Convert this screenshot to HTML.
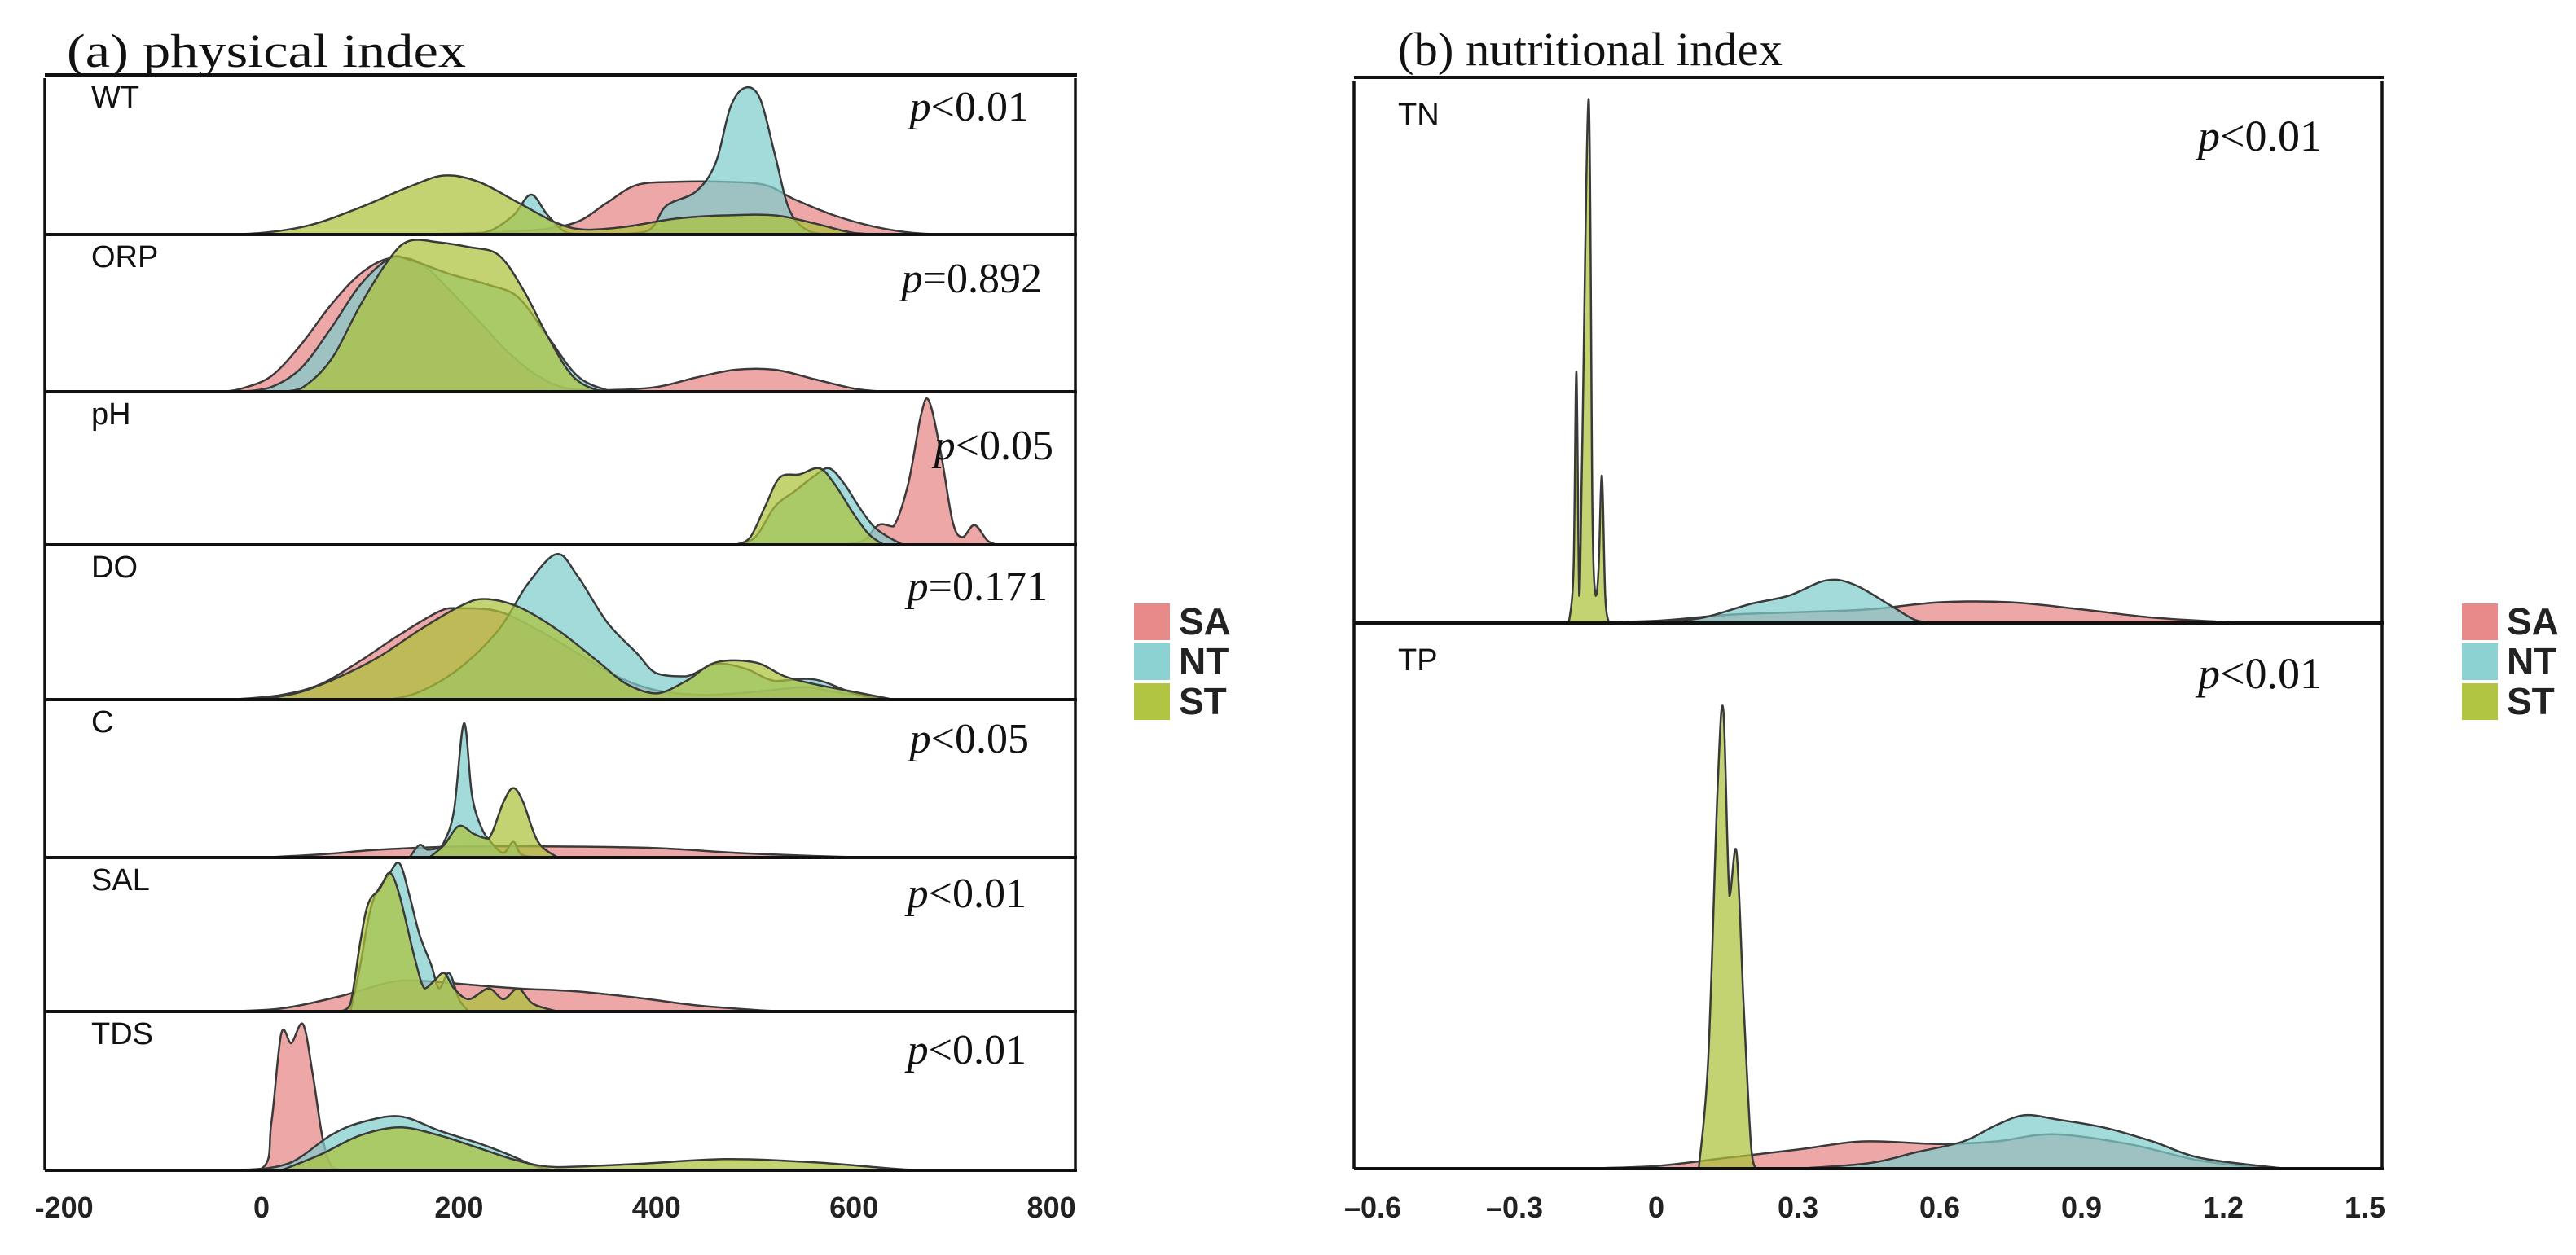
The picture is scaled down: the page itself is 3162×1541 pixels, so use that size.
<!DOCTYPE html>
<html><head><meta charset="utf-8"><style>
html,body{margin:0;padding:0;background:#fff}
svg{display:block}
</style></head><body>
<svg id="chart" width="3162" height="1541" viewBox="0 0 3162 1541" xmlns="http://www.w3.org/2000/svg" font-family="Liberation Sans, Arial, sans-serif">
<g id="static" font-family="Liberation Sans, Arial, sans-serif">
<text x="82" y="82" font-family="Liberation Serif, serif" font-size="58" textLength="490" lengthAdjust="spacingAndGlyphs" fill="#111">(a) physical index</text>
<text x="1716" y="80" font-family="Liberation Serif, serif" font-size="58" textLength="472" lengthAdjust="spacingAndGlyphs" fill="#111">(b) nutritional index</text>
<g>
<rect x="1392" y="741" width="44" height="45" fill="#e88a8a"/>
<rect x="1392" y="790" width="44" height="45" fill="#8cd2d2"/>
<rect x="1392" y="839" width="44" height="45" fill="#b1c543"/>
<text x="1447" y="779" font-size="46" font-weight="bold" fill="#222">SA</text>
<text x="1447" y="828" font-size="46" font-weight="bold" fill="#222">NT</text>
<text x="1447" y="877" font-size="46" font-weight="bold" fill="#222">ST</text>
</g>
<g>
<rect x="3022" y="741" width="44" height="45" fill="#e88a8a"/>
<rect x="3022" y="790" width="44" height="45" fill="#8cd2d2"/>
<rect x="3022" y="839" width="44" height="45" fill="#b1c543"/>
<text x="3077" y="779" font-size="46" font-weight="bold" fill="#222">SA</text>
<text x="3077" y="828" font-size="46" font-weight="bold" fill="#222">NT</text>
<text x="3077" y="877" font-size="46" font-weight="bold" fill="#222">ST</text>
</g>
</g>
<g id="plots" font-family="Liberation Sans, Arial, sans-serif"></g>
</svg>
<script>
// ---------- data: [value, relative density] ----------
const leftTicks = [-200, 0, 200, 400, 600, 800];
const leftTickLabels = ["-200", "0", "200", "400", "600", "800"];
const rightTicks = [-0.6, -0.3, 0, 0.3, 0.6, 0.9, 1.2, 1.5];
const rightTickLabels = ["\u20130.6", "\u20130.3", "0", "0.3", "0.6", "0.9", "1.2", "1.5"];
const leftRows = ["WT", "ORP", "pH", "DO", "C", "SAL", "TDS"];
const leftPvals = ["<0.01", "=0.892", "<0.05", "=0.171", "<0.05", "<0.01", "<0.01"];
const rightRows = ["TN", "TP"];
const rightPvals = ["<0.01", "<0.01"];

const WT_SA = [[150,0],[220,0.01],[280,0.03],[320,0.08],[350,0.2],[380,0.31],[420,0.33],[470,0.33],[510,0.31],[540,0.22],[580,0.12],[620,0.05],[660,0.01],[700,0]];
const WT_NT = [[200,0],[230,0.02],[255,0.12],[273,0.25],[290,0.12],[310,0.01],[340,0],[390,0.02],[410,0.18],[440,0.27],[460,0.45],[475,0.8],[490,0.92],[505,0.85],[520,0.5],[535,0.15],[555,0.02],[580,0]];
const WT_ST = [[-50,0],[0,0.01],[50,0.06],[100,0.17],[150,0.3],[185,0.37],[220,0.33],[260,0.2],[300,0.07],[330,0.03],[370,0.05],[420,0.1],[470,0.12],[520,0.12],[560,0.07],[600,0.01],[640,0]];

const ORP_SA = [[-40,0],[-20,0.02],[10,0.1],[40,0.3],[70,0.55],[100,0.75],[130,0.85],[160,0.82],[190,0.65],[220,0.45],[250,0.25],[280,0.1],[310,0.02],[350,0.01],[400,0.03],[440,0.09],[480,0.14],[520,0.14],[560,0.08],[600,0.02],[630,0]];
const ORP_NT = [[-20,0],[10,0.03],[40,0.15],[70,0.4],[100,0.68],[130,0.85],[150,0.84],[190,0.75],[230,0.68],[260,0.6],[290,0.35],[320,0.1],[350,0.01],[370,0]];
const ORP_ST = [[20,0],[40,0.02],[70,0.2],[100,0.55],[130,0.85],[150,0.96],[180,0.95],[210,0.92],[240,0.87],[265,0.65],[290,0.35],[315,0.1],[340,0.01],[360,0]];

const PH_SA = [[590,0],[610,0.03],[625,0.13],[640,0.12],[655,0.4],[668,0.85],[676,0.94],[688,0.6],[700,0.15],[710,0.05],[722,0.13],[735,0.03],[745,0]];
const PH_NT = [[480,0],[500,0.05],[520,0.25],[540,0.35],[560,0.45],[575,0.5],[590,0.4],[605,0.25],[620,0.12],[635,0.05],[650,0]];
const PH_ST = [[480,0],[495,0.05],[510,0.25],[525,0.44],[545,0.46],[565,0.5],[580,0.4],[600,0.2],[615,0.07],[630,0]];

const DO_SA = [[-30,0],[20,0.03],[60,0.1],[100,0.25],[140,0.42],[180,0.57],[200,0.59],[240,0.57],[280,0.45],[320,0.3],[360,0.15],[400,0.06],[450,0.03],[500,0.05],[550,0.08],[580,0.05],[620,0.01],[650,0]];
const DO_NT = [[130,0],[160,0.05],[200,0.2],[240,0.45],[270,0.75],[299,0.94],[320,0.8],[350,0.5],[380,0.3],[400,0.17],[430,0.15],[460,0.23],[490,0.2],[520,0.12],[560,0.13],[600,0.04],[630,0]];
const DO_ST = [[0,0],[40,0.05],[80,0.15],[120,0.28],[160,0.45],[200,0.6],[225,0.65],[260,0.6],[300,0.45],[340,0.25],[370,0.1],[400,0.04],[430,0.12],[460,0.24],[500,0.24],[530,0.15],[560,0.1],[600,0.05],[640,0]];

const C_SA = [[0,0],[60,0.02],[120,0.05],[200,0.07],[300,0.07],[400,0.06],[480,0.03],[560,0.01],[615,0]];
const C_NT = [[150,0],[160,0.08],[168,0.05],[178,0.06],[185,0.1],[195,0.3],[205,0.85],[213,0.4],[222,0.2],[232,0.1],[245,0.03],[255,0.1],[263,0.02],[280,0]];
const C_ST = [[170,0],[185,0.08],[200,0.2],[215,0.15],[230,0.12],[245,0.35],[255,0.44],[265,0.35],[280,0.1],[300,0]];

const SAL_SA = [[-40,0],[20,0.02],[80,0.1],[130,0.19],[160,0.2],[200,0.18],[260,0.15],[320,0.13],[380,0.09],[440,0.04],[500,0.01],[530,0]];
const SAL_NT = [[90,0],[100,0.3],[112,0.7],[130,0.9],[140,0.96],[150,0.75],[160,0.5],[172,0.3],[180,0.15],[190,0.25],[200,0.08],[210,0]];
const SAL_ST = [[80,0],[90,0.05],[100,0.45],[108,0.7],[120,0.8],[130,0.9],[140,0.75],[155,0.35],[165,0.15],[175,0.2],[185,0.25],[195,0.15],[210,0.08],[230,0.15],[245,0.08],[260,0.15],[275,0.05],[300,0]];

const TDS_SA = [[-60,0],[0,0.01],[10,0.3],[20,0.86],[30,0.8],[42,0.92],[52,0.6],[62,0.2],[72,0.02],[90,0]];
const TDS_NT = [[-10,0],[30,0.05],[70,0.22],[100,0.3],[140,0.34],[180,0.25],[220,0.17],[250,0.1],[280,0.02],[300,0]];
const TDS_ST = [[20,0],[60,0.1],[100,0.22],[140,0.27],[180,0.22],[220,0.14],[260,0.06],[300,0.02],[380,0.04],[470,0.07],[560,0.05],[640,0.01],[670,0]];

const TN_SA = [[-0.2,0],[0,0.004],[0.15,0.015],[0.3,0.02],[0.45,0.025],[0.6,0.038],[0.75,0.038],[0.9,0.025],[1.05,0.01],[1.2,0.002],[1.25,0]];
const TN_NT = [[0,0],[0.1,0.01],[0.2,0.035],[0.28,0.05],[0.36,0.078],[0.42,0.07],[0.5,0.03],[0.55,0.005],[0.6,0]];
const TN_ST = [[-0.185,0],[-0.175,0.1],[-0.169,0.46],[-0.163,0.05],[-0.157,0.3],[-0.143,0.96],[-0.135,0.2],[-0.128,0.05],[-0.122,0.1],[-0.115,0.27],[-0.108,0.05],[-0.1,0]];

const TP_SA = [[-0.17,0],[0,0.005],[0.15,0.02],[0.3,0.035],[0.44,0.05],[0.6,0.045],[0.72,0.05],[0.84,0.063],[1.0,0.045],[1.15,0.015],[1.3,0]];
const TP_NT = [[0.3,0],[0.45,0.01],[0.55,0.03],[0.65,0.05],[0.72,0.08],[0.78,0.098],[0.85,0.09],[0.95,0.075],[1.05,0.05],[1.15,0.02],[1.3,0.003],[1.34,0]];
const TP_ST = [[0.09,0],[0.11,0.2],[0.13,0.7],[0.142,0.84],[0.155,0.5],[0.17,0.58],[0.185,0.3],[0.2,0.05],[0.21,0]];

const leftSeries = [[WT_SA,WT_NT,WT_ST],[ORP_SA,ORP_NT,ORP_ST],[PH_SA,PH_NT,PH_ST],[DO_SA,DO_NT,DO_ST],[C_SA,C_NT,C_ST],[SAL_SA,SAL_NT,SAL_ST],[TDS_SA,TDS_NT,TDS_ST]];
const rightSeries = [[TN_SA,TN_NT,TN_ST],[TP_SA,TP_NT,TP_ST]];

// ---------- rendering ----------
const NS = "http://www.w3.org/2000/svg";
const plots = document.getElementById("plots");
const fills = ["#e68585", "#7fcdcd", "#adc23a"];
const groupNames = ["sa", "nt", "st"];

function mk(tag, attrs, parent) {
  const el = document.createElementNS(NS, tag);
  for (const k in attrs) el.setAttribute(k, attrs[k]);
  parent.appendChild(el);
  return el;
}
function xLeft(v) { return 321 + v * 1.212; }
function xRight(v) { return 2033 + v * 580; }

function smoothPath(pts) {
  let d = "M" + pts[0][0].toFixed(1) + "," + pts[0][1].toFixed(1);
  for (let i = 0; i < pts.length - 1; i++) {
    const p0 = pts[Math.max(0, i - 1)], p1 = pts[i], p2 = pts[i + 1], p3 = pts[Math.min(pts.length - 1, i + 2)];
    const c1x = p1[0] + (p2[0] - p0[0]) / 6, c1y = Math.min(p1[1] + (p2[1] - p0[1]) / 6, Math.max(p1[1], p2[1]));
    const c2x = p2[0] - (p3[0] - p1[0]) / 6, c2y = Math.min(p2[1] - (p3[1] - p1[1]) / 6, Math.max(p1[1], p2[1]));
    d += " C" + c1x.toFixed(1) + "," + c1y.toFixed(1) + " " + c2x.toFixed(1) + "," + c2y.toFixed(1) + " " + p2[0].toFixed(1) + "," + p2[1].toFixed(1);
  }
  return d;
}

function drawDensity(series, xf, base, h, parent, nm) {
  const pts = series.map(p => [xf(p[0]), base - p[1] * h]);
  const path = mk("path", {d: smoothPath(pts) + " Z"}, parent);
  
  
  return path;
}

function drawPanel(opts) {
  const g = mk("g", {}, plots);
  
  
  const n = opts.rows.length;
  for (let r = 0; r < n; r++) {
    const top = opts.bounds[r], base = opts.bounds[r + 1], h = base - top;
    const rg = mk("g", {}, g);
    
    
    opts.series[r].forEach((s, k) => {
      const p = drawDensity(s, opts.xf, base, h, rg, 'density-' + opts.rows[r].toLowerCase() + '-' + groupNames[k]);
      p.setAttribute("fill", fills[k]);
      p.setAttribute("fill-opacity", "0.72");
      p.setAttribute("stroke", "#3a3a3a");
      p.setAttribute("stroke-width", "2.5");
    });
    const lab = mk("text", {x: opts.labelX, y: top + opts.labelDy, "font-size": opts.labelSize, "font-family": "Liberation Sans, Arial, sans-serif", fill: "#111"}, rg);
    
    
    lab.textContent = opts.rows[r];
    const pt = mk("text", {x: opts.pX[r], y: top + opts.pDy[r], "font-size": opts.pSize, "text-anchor": "end", "font-family": "Liberation Serif, serif", fill: "#111"}, rg);
    
    
    const ti = mk("tspan", {"font-style": "italic"}, pt);
    ti.textContent = "p";
    const tr = mk("tspan", {}, pt);
    tr.textContent = opts.pvals[r];
  }
  const L = opts.frame[0], R = opts.frame[1];
  for (let r = 0; r <= n; r++) {
    const ln = mk("line", {x1: L, x2: R + 2, y1: opts.bounds[r], y2: opts.bounds[r], stroke: "#111", "stroke-width": 4}, g);
    
    
  }
  const lv = mk("line", {x1: L, x2: L, y1: opts.bounds[0] + 4, y2: opts.bounds[n], stroke: "#111", "stroke-width": 3.5}, g);
  
  
  const rv = mk("line", {x1: R, x2: R, y1: opts.bounds[0] + 4, y2: opts.bounds[n], stroke: "#111", "stroke-width": 3.5}, g);
  
  
  opts.ticks.forEach((t, i) => {
    const tx = mk("text", {x: opts.xf(t), y: 1495, "font-size": 36, "font-weight": "bold", "text-anchor": "middle", "font-family": "Liberation Sans, Arial, sans-serif", fill: "#222"}, g);
    
    
    tx.textContent = opts.tickLabels[i];
  });
}

drawPanel({
  name: "panel-a-physical-index",
  rows: leftRows, pvals: leftPvals, series: leftSeries, xf: xLeft,
  bounds: [92, 288, 481, 669, 859, 1053, 1242, 1437],
  frame: [55, 1320],
  labelX: 112, labelDy: 40, labelSize: 38,
  pX: [1263, 1279, 1293, 1286, 1263, 1260, 1260],
  pDy: [56, 71, 83, 68, 65, 61, 64], pSize: 52,
  ticks: leftTicks, tickLabels: leftTickLabels
});
drawPanel({
  name: "panel-b-nutritional-index",
  rows: rightRows, pvals: rightPvals, series: rightSeries, xf: xRight,
  bounds: [95, 765, 1435],
  frame: [1662, 2924],
  labelX: 1716, labelDy: 58, labelSize: 38,
  pX: [2850, 2850], pDy: [90, 80], pSize: 54,
  ticks: rightTicks, tickLabels: rightTickLabels
});
</script>
</body></html>
